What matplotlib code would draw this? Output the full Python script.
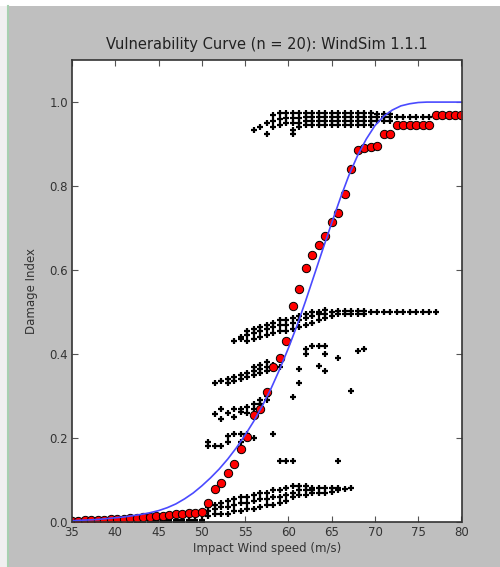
import matplotlib
matplotlib.use('Agg')
import matplotlib.pyplot as plt
from matplotlib.patches import Rectangle
from matplotlib.lines import Line2D

# wind speeds of the simulations (m/s)
wind_speed = [35.0, 35.75, 36.5, 37.25, 38.0, 38.75, 39.5, 40.25, 41.0, 41.75,
              42.5, 43.25, 44.0, 44.75, 45.5, 46.25, 47.0, 47.75, 48.5, 49.25,
              50.0, 50.75, 51.5, 52.25, 53.0, 53.75, 54.5, 55.25, 56.0, 56.75,
              57.5, 58.25, 59.0, 59.75, 60.5, 61.25, 62.0, 62.75, 63.5, 64.25,
              65.0, 65.75, 66.5, 67.25, 68.0, 68.75, 69.5, 70.25, 71.0, 71.75,
              72.5, 73.25, 74.0, 74.75, 75.5, 76.25, 77.0, 77.75, 78.5, 79.25, 80.0]

# mean damage index (red circles)
mean_damage = [0.003, 0.003, 0.004, 0.004, 0.005, 0.005, 0.006, 0.007, 0.008, 0.009,
               0.010, 0.011, 0.012, 0.014, 0.015, 0.017, 0.018, 0.019, 0.021, 0.022,
               0.023, 0.046, 0.078, 0.094, 0.116, 0.138, 0.173, 0.203, 0.255, 0.268,
               0.310, 0.370, 0.390, 0.430, 0.514, 0.555, 0.605, 0.635, 0.660, 0.680,
               0.715, 0.735, 0.780, 0.840, 0.886, 0.890, 0.893, 0.895, 0.924, 0.924,
               0.945, 0.945, 0.945, 0.945, 0.945, 0.945, 0.969, 0.969, 0.969, 0.969, 0.969]

# fitted vulnerability curve (blue line)
fit_speed = [35, 36, 37, 38, 39, 40, 41, 42, 43, 44, 45, 46, 47, 48, 49, 50, 51, 52,
             53, 54, 55, 56, 57, 58, 59, 60, 61, 62, 63, 64, 65, 66, 67, 68, 69, 70,
             71, 72, 73, 74, 75, 76, 77, 78, 79, 80]
fit_damage = [0.003, 0.004, 0.005, 0.006, 0.008, 0.010, 0.012, 0.015, 0.018, 0.022,
              0.027, 0.034, 0.043, 0.055, 0.069, 0.086, 0.105, 0.126, 0.150, 0.177,
              0.207, 0.240, 0.277, 0.318, 0.364, 0.414, 0.468, 0.527, 0.589, 0.651,
              0.712, 0.771, 0.826, 0.873, 0.912, 0.944, 0.966, 0.981, 0.991, 0.996,
              0.999, 1.0, 1.0, 1.0, 1.0, 1.0]

# individual simulation results (black +), grouped by damage state
zero_band = [(s, [0.0, 0.005]) for s in wind_speed[:21]]

low_band = [(50.75, [0.015, 0.025, 0.035]), (51.5, [0.02, 0.03, 0.04]),
            (52.25, [0.02, 0.035, 0.045]), (53.0, [0.02, 0.035, 0.05]),
            (53.75, [0.025, 0.04, 0.055]), (54.5, [0.025, 0.045, 0.06]),
            (55.25, [0.03, 0.045, 0.06]), (56.0, [0.03, 0.05, 0.065]),
            (56.75, [0.035, 0.055, 0.07]), (57.5, [0.04, 0.055, 0.07]),
            (58.25, [0.04, 0.06, 0.075]), (59.0, [0.045, 0.06, 0.075]),
            (59.75, [0.05, 0.065, 0.08]), (60.5, [0.06, 0.07, 0.085]),
            (61.25, [0.065, 0.075, 0.085]), (62.0, [0.065, 0.075, 0.085]),
            (62.75, [0.07, 0.075, 0.08]), (63.5, [0.07, 0.08]),
            (64.25, [0.07, 0.08]), (65.0, [0.072, 0.08]),
            (65.75, [0.075, 0.082]), (66.5, [0.078]), (67.25, [0.082])]

band_020 = [(50.75, [0.18, 0.19]), (51.5, [0.18]), (52.25, [0.18]),
            (53.0, [0.19, 0.205]), (53.75, [0.21]), (54.5, [0.19, 0.21]),
            (55.25, [0.2, 0.21]), (56.0, [0.2])]

band_027 = [(51.5, [0.256]), (52.25, [0.245, 0.268]), (53.0, [0.26]),
            (53.75, [0.25, 0.27]), (54.5, [0.262, 0.268]), (55.25, [0.26, 0.275]),
            (56.0, [0.27, 0.28]), (56.75, [0.28, 0.29]), (57.5, [0.29, 0.3])]

band_035 = [(51.5, [0.33]), (52.25, [0.335]), (53.0, [0.33, 0.34]),
            (53.75, [0.335, 0.345]), (54.5, [0.34, 0.35]), (55.25, [0.345, 0.355]),
            (56.0, [0.35, 0.36, 0.37]), (56.75, [0.355, 0.365, 0.375]),
            (57.5, [0.36, 0.37, 0.38]), (58.25, [0.365, 0.375]), (59.0, [0.37])]

band_048 = [(53.75, [0.43]), (54.5, [0.435, 0.44]), (55.25, [0.43, 0.445, 0.455]),
            (56.0, [0.435, 0.45, 0.46]), (56.75, [0.44, 0.455, 0.465]),
            (57.5, [0.445, 0.46, 0.47]), (58.25, [0.45, 0.465, 0.475]),
            (59.0, [0.455, 0.47, 0.48]), (59.75, [0.455, 0.47, 0.48]),
            (60.5, [0.46, 0.475, 0.485]), (61.25, [0.465, 0.48, 0.49]),
            (62.0, [0.47, 0.485, 0.495]), (62.75, [0.475, 0.49, 0.5]),
            (63.5, [0.48, 0.495, 0.5]), (64.25, [0.485, 0.495, 0.505]),
            (65.0, [0.49, 0.5]), (65.75, [0.495, 0.503]), (66.5, [0.495, 0.503]),
            (67.25, [0.495, 0.503]), (68.0, [0.495, 0.503]), (68.75, [0.495, 0.503]),
            (69.5, [0.5]), (70.25, [0.5]), (71.0, [0.5]), (71.75, [0.5]),
            (72.5, [0.5]), (73.25, [0.5]), (74.0, [0.5]), (74.75, [0.5]),
            (75.5, [0.5]), (76.25, [0.5]), (77.0, [0.5])]

top_band = [(56.0, [0.933]), (56.75, [0.941]), (57.5, [0.924, 0.95]),
            (58.25, [0.94, 0.955, 0.97]), (59.0, [0.945, 0.96, 0.975]),
            (59.75, [0.95, 0.962, 0.975]), (60.5, [0.924, 0.933, 0.95, 0.962, 0.975]),
            (61.25, [0.94, 0.95, 0.962, 0.975]), (62.0, [0.945, 0.955, 0.965, 0.975]),
            (62.75, [0.945, 0.955, 0.965, 0.975]), (63.5, [0.945, 0.955, 0.965, 0.975]),
            (64.25, [0.945, 0.955, 0.965, 0.975]), (65.0, [0.945, 0.955, 0.965, 0.975]),
            (65.75, [0.945, 0.955, 0.965, 0.975]), (66.5, [0.945, 0.955, 0.965, 0.975]),
            (67.25, [0.945, 0.955, 0.965, 0.975]), (68.0, [0.945, 0.955, 0.965, 0.975]),
            (68.75, [0.945, 0.955, 0.965, 0.975]), (69.5, [0.945, 0.955, 0.965, 0.975]),
            (70.25, [0.955, 0.965, 0.972]), (71.0, [0.955, 0.965, 0.972]),
            (71.75, [0.955, 0.965, 0.972]), (72.5, [0.965]), (73.25, [0.965]),
            (74.0, [0.965]), (74.75, [0.965]), (75.5, [0.965]), (76.25, [0.965]),
            (77.0, [0.965]), (77.75, [0.965]), (78.5, [0.965]), (79.25, [0.965]),
            (80.0, [0.965])]

scattered = [(58.25, [0.21]), (59.0, [0.145]), (59.75, [0.145]), (60.5, [0.145, 0.298]),
             (65.75, [0.145, 0.39]), (61.25, [0.33, 0.365]), (67.25, [0.313]),
             (62.0, [0.40, 0.413]), (62.75, [0.42]), (63.5, [0.371, 0.42]),
             (64.25, [0.36, 0.40, 0.42]), (68.0, [0.408]), (68.75, [0.413])]

fig = plt.figure(figsize=(5, 5.67), dpi=100, facecolor='#bfbfbf')
# window frame strips of the screenshot
fig.patches.append(Rectangle((0, 0), 7 / 500, 1, transform=fig.transFigure,
                             facecolor='#f0f0f0', edgecolor='none', zorder=-1))
fig.patches.append(Rectangle((0, 1 - 6 / 567), 1, 6 / 567, transform=fig.transFigure,
                             facecolor='#ffffff', edgecolor='none', zorder=-1))
fig.lines.append(Line2D([7.5 / 500, 7.5 / 500], [0, 1 - 6 / 567], transform=fig.transFigure,
                        color='#a8d0b0', lw=1.5))

ax = fig.add_axes([0.144, 0.0794, 0.779, 0.8146])

for band in [zero_band, low_band, band_020, band_027, band_035, band_048, top_band, scattered]:
    xs = [s for s, vals in band for v in vals]
    ys = [v for s, vals in band for v in vals]
    ax.plot(xs, ys, 'k+', ms=4.5, mew=1.6)

ax.plot(wind_speed, mean_damage, 'o', color='red', mec='black', mew=0.7, ms=6)
ax.plot(fit_speed, fit_damage, '-', color='#4a4aff', lw=1.2)

ax.set_xlim(35, 80)
ax.set_ylim(0, 1.1)
ax.set_xticks(range(35, 81, 5))
ax.set_yticks([0.0, 0.2, 0.4, 0.6, 0.8, 1.0])
ax.set_yticklabels(['0.0', '0.2', '0.4', '0.6', '0.8', '1.0'])
ax.tick_params(direction='in', top=True, right=True, length=4, width=0.8,
               labelsize=8.5, labelcolor='#333333', color='#555555', pad=3)
for sp in ax.spines.values():
    sp.set_color('#333333')
    sp.set_linewidth(1.2)

ax.set_title('Vulnerability Curve (n = 20): WindSim 1.1.1', fontsize=10.5,
             color='#222222', pad=8)
ax.set_xlabel('Impact Wind speed (m/s)', fontsize=8.5, color='#333333', labelpad=2)
ax.set_ylabel('Damage Index', fontsize=8.5, color='#333333', labelpad=8)

fig.savefig('out.png', dpi=100, facecolor=fig.get_facecolor())
